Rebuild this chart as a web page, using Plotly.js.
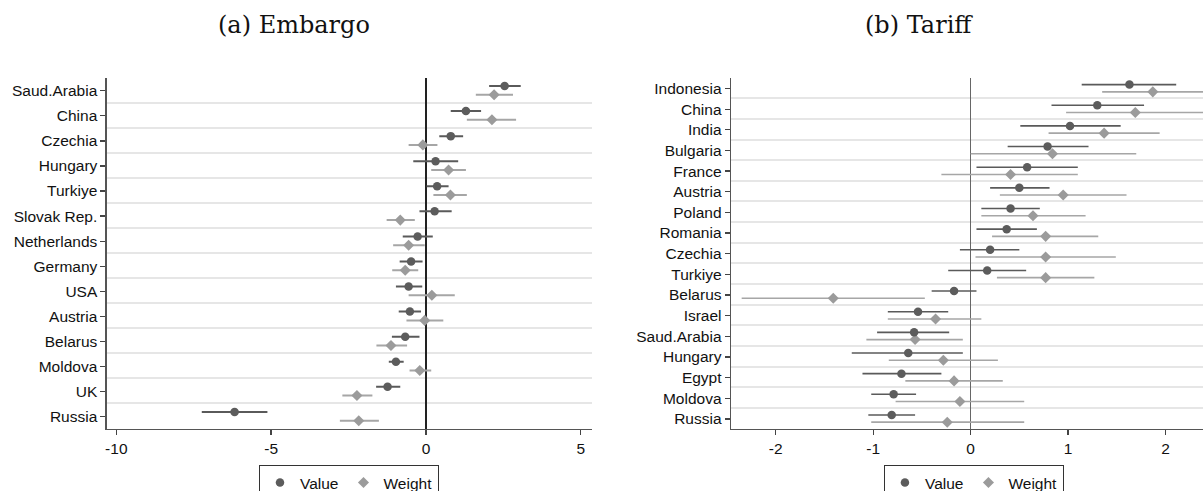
<!DOCTYPE html>
<html>
<head>
<meta charset="utf-8">
<script src="https://cdn.plot.ly/plotly-3.0.1.min.js"></script>
<style>html,body{margin:0;padding:0;background:#fff;}#chart{width:1203px;height:491px;}</style>
</head>
<body>
<div id="chart"></div>
<script>
// ---- (a) Embargo ----
const embCats = ['Saud.Arabia','China','Czechia','Hungary','Turkiye','Slovak Rep.','Netherlands','Germany','USA','Austria','Belarus','Moldova','UK','Russia'];
const embValue   = [2.54, 1.29, 0.80, 0.31, 0.36, 0.28, -0.27, -0.48, -0.56, -0.52, -0.67, -0.97, -1.24, -6.18];
const embValueLo = [2.04, 0.80, 0.43, -0.41, 0.02, -0.21, -0.75, -0.85, -0.97, -0.88, -1.10, -1.20, -1.61, -7.24];
const embValueHi = [3.06, 1.78, 1.20, 1.04, 0.73, 0.83, 0.22, -0.11, -0.12, -0.16, -0.21, -0.72, -0.83, -5.12];
const embWeight   = [2.20, 2.13, -0.10, 0.73, 0.79, -0.83, -0.56, -0.67, 0.19, -0.04, -1.13, -0.20, -2.23, -2.17];
const embWeightLo = [1.61, 1.32, -0.56, 0.17, 0.24, -1.27, -1.06, -1.09, -0.56, -0.63, -1.60, -0.53, -2.70, -2.78];
const embWeightHi = [2.81, 2.91, 0.37, 1.29, 1.32, -0.36, -0.04, -0.25, 0.93, 0.56, -0.61, 0.17, -1.73, -1.52];

// ---- (b) Tariff ----
const tarCats = ['Indonesia','China','India','Bulgaria','France','Austria','Poland','Romania','Czechia','Turkiye','Belarus','Israel','Saud.Arabia','Hungary','Egypt','Moldova','Russia'];
const tarValue   = [1.63, 1.30, 1.02, 0.79, 0.58, 0.50, 0.41, 0.37, 0.20, 0.17, -0.17, -0.54, -0.58, -0.64, -0.71, -0.79, -0.81];
const tarValueLo = [1.14, 0.83, 0.51, 0.38, 0.06, 0.20, 0.11, 0.06, -0.11, -0.23, -0.40, -0.85, -0.96, -1.22, -1.11, -1.02, -1.05];
const tarValueHi = [2.11, 1.78, 1.54, 1.21, 1.10, 0.81, 0.71, 0.68, 0.50, 0.57, 0.06, -0.23, -0.22, -0.08, -0.30, -0.56, -0.57];
const tarWeight   = [1.87, 1.69, 1.37, 0.84, 0.41, 0.95, 0.64, 0.77, 0.77, 0.77, -1.41, -0.36, -0.57, -0.28, -0.17, -0.11, -0.24];
const tarWeightLo = [1.35, 0.98, 0.80, 0.00, -0.30, 0.30, 0.11, 0.22, 0.05, 0.27, -2.35, -0.85, -1.07, -0.84, -0.67, -0.77, -1.02];
const tarWeightHi = [2.40, 2.40, 1.94, 1.70, 1.10, 1.60, 1.18, 1.31, 1.49, 1.27, -0.47, 0.11, -0.08, 0.28, 0.33, 0.55, 0.55];

const seriesNames = ['Value', 'Weight'];
const panelTitles = ['(a) Embargo', '(b) Tariff'];

// styling
const VAL_COL = '#5c5c5c', W_COL = '#9b9b9b';
const VAL_CI = '#5a5a5a', W_CI = '#a6a6a6';
const OFF_V = -0.19, OFF_W = 0.16, GRID_OFF = 0.47;
const tickFont = {family: 'Liberation Sans, Arial, sans-serif', size: 15.5, color: '#111'};

function idx(n, off) { return Array.from({length: n}, (_, i) => i + off); }
function plus(hi, x) { return hi.map((h, i) => h - x[i]); }
function minus(lo, x) { return x.map((v, i) => v - lo[i]); }

function makeTraces(cats, v, vlo, vhi, w, wlo, whi, xa, ya, leg, ciw) {
  const n = cats.length;
  return [
    {type: 'scatter', mode: 'markers', name: seriesNames[1], x: w, y: idx(n, OFF_W), xaxis: xa, yaxis: ya, legend: leg,
     marker: {symbol: 'diamond', size: 8.5, color: W_COL},
     error_x: {type: 'data', symmetric: false, array: plus(whi, w), arrayminus: minus(wlo, w), width: 0, thickness: ciw, color: W_CI}},
    {type: 'scatter', mode: 'markers', name: seriesNames[0], x: v, y: idx(n, OFF_V), xaxis: xa, yaxis: ya, legend: leg,
     marker: {symbol: 'circle', size: 8.5, color: VAL_COL},
     error_x: {type: 'data', symmetric: false, array: plus(vhi, v), arrayminus: minus(vlo, v), width: 0, thickness: ciw, color: VAL_CI}}
  ];
}

const traces = [].concat(
  makeTraces(embCats, embValue, embValueLo, embValueHi, embWeight, embWeightLo, embWeightHi, 'x', 'y', 'legend', 2),
  makeTraces(tarCats, tarValue, tarValueLo, tarValueHi, tarWeight, tarWeightLo, tarWeightHi, 'x2', 'y2', 'legend2', 1.6)
);

const yDom = [0.1259, 0.8407];
function yAxis(cats, anchor) {
  const n = cats.length;
  return {
    domain: yDom, anchor: anchor, range: [n - 0.5, -0.5],
    tickmode: 'array', tickvals: idx(n, 0), ticktext: cats,
    ticks: 'outside', ticklen: 5, tickwidth: 1.3, tickcolor: '#444',
    showline: true, linecolor: '#555', linewidth: 1.3,
    showgrid: false, zeroline: false, tickfont: tickFont,
    minor: {tickmode: 'array', tickvals: idx(n - 1, GRID_OFF), showgrid: true, gridcolor: '#e6e6e6', gridwidth: 2, ticks: ''},
    fixedrange: true
  };
}
function xAxis(dom, range, tv, anchor, zc) {
  return {
    domain: dom, anchor: anchor, range: range,
    tickmode: 'array', tickvals: tv, ticktext: tv.map(String),
    ticks: 'outside', ticklen: 5, tickwidth: 1.3, tickcolor: '#444',
    showline: true, linecolor: '#555', linewidth: 1.3,
    showgrid: false, zeroline: true, zerolinecolor: zc, zerolinewidth: 1.3,
    tickfont: tickFont, fixedrange: true
  };
}

const legendBase = {
  orientation: 'h', yanchor: 'top', y: 0.053, xanchor: 'center',
  bordercolor: '#333', borderwidth: 1, bgcolor: '#fff',
  font: {family: 'Liberation Sans, Arial, sans-serif', size: 15.5, color: '#111'},
  itemwidth: 30, traceorder: 'reversed'
};

const layout = {
  width: 1203, height: 491,
  margin: {l: 0, r: 0, t: 0, b: 0, autoexpand: false},
  paper_bgcolor: '#fff', plot_bgcolor: '#fff',
  showlegend: true,
  xaxis: xAxis([0.0887, 0.4918], [-10.31, 5.35], [-10, -5, 0, 5], 'y', '#222'),
  yaxis: yAxis(embCats, 'x'),
  xaxis2: xAxis([0.6076, 1.0], [-2.46, 2.385], [-2, -1, 0, 1, 2], 'y2', '#666'),
  yaxis2: yAxis(tarCats, 'x2'),
  legend: Object.assign({}, legendBase, {x: 0.2901}),
  legend2: Object.assign({}, legendBase, {x: 0.8096}),
  annotations: [
    {text: panelTitles[0], xref: 'paper', yref: 'paper', x: 0.2444, y: 0.949, xanchor: 'center', yanchor: 'middle', showarrow: false,
     font: {family: 'DejaVu Serif, serif', size: 24, color: '#111'}},
    {text: panelTitles[1], xref: 'paper', yref: 'paper', x: 0.7643, y: 0.949, xanchor: 'center', yanchor: 'middle', showarrow: false,
     font: {family: 'DejaVu Serif, serif', size: 24, color: '#111'}}
  ]
};

Plotly.newPlot('chart', traces, layout, {displayModeBar: false, staticPlot: true});
</script>
</body>
</html>
